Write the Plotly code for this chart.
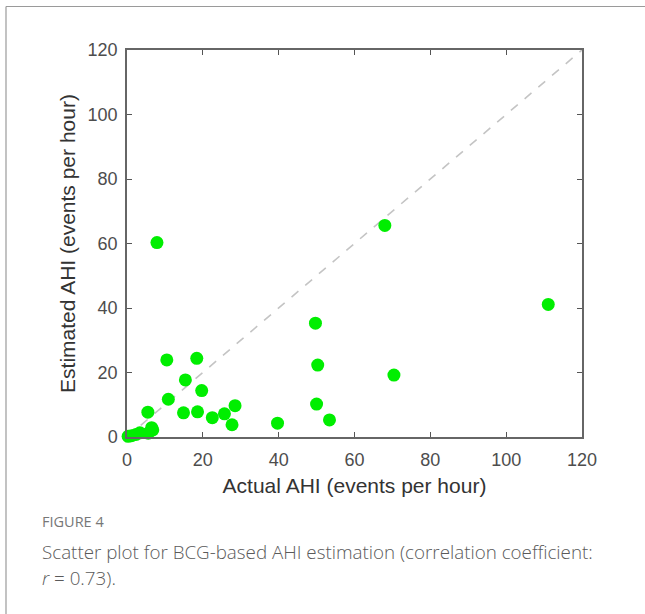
import plotly.graph_objects as go

# Data
actual_ahi = [7.9, 68.0, 111.1, 49.7, 50.3, 70.4, 50.0, 53.4, 39.7, 10.5, 18.4, 15.4,
              19.7, 10.9, 5.5, 14.9, 18.6, 22.5, 25.7, 28.5, 27.7, 6.5, 5.6, 0.3, 1.2,
              2.4, 3.4, 6.8]
estimated_ahi = [60.3, 65.6, 41.1, 35.3, 22.3, 19.2, 10.2, 5.3, 4.3, 23.9, 24.4, 17.7,
                 14.4, 11.7, 7.7, 7.5, 7.8, 6.0, 7.2, 9.7, 3.8, 2.9, 1.2, 0.2, 0.4,
                 0.8, 1.3, 2.2]
identity_line = [0, 120]
tick_values = [0, 20, 40, 60, 80, 100, 120]

x_title = "Actual AHI (events per hour)"
y_title = "Estimated AHI (events per hour)"
caption_label = "FIGURE 4"
caption_line1 = "Scatter plot for BCG-based AHI estimation (correlation coefficient:"
caption_line2 = "<i>r</i> = 0.73)."

# layout geometry (pixels)
W, H = 645, 614
L, R, T, B = 127, 63, 50, 177
pw, ph = W - L - R, H - T - B


def px(xp):
    return (xp - L) / pw


def py(yp):
    return (H - B - yp) / ph


fig = go.Figure()
fig.add_trace(go.Scatter(
    x=identity_line, y=identity_line, mode="lines",
    line=dict(color="#c4c4c4", width=1.6, dash="dash"),
    hoverinfo="skip", showlegend=False))
fig.add_trace(go.Scatter(
    x=actual_ahi, y=estimated_ahi, mode="markers",
    marker=dict(color="#00ee00", size=13, line=dict(width=0)),
    cliponaxis=False, showlegend=False))

axis_common = dict(
    range=[0, 120], tickvals=tick_values, ticks="inside", ticklen=5, tickwidth=1,
    tickcolor="#555555", showline=True, linecolor="#666666", linewidth=1.5,
    mirror="ticks", showgrid=False, zeroline=False,
    tickfont=dict(family="Liberation Sans, Arial", size=18, color="#4d4d4d"),
)

fig.update_layout(
    width=W, height=H,
    margin=dict(l=L, r=R, t=T, b=B),
    paper_bgcolor="white", plot_bgcolor="white",
    xaxis=dict(**axis_common, ticklabelstandoff=6,
               title=dict(text=x_title, standoff=9,
                          font=dict(family="Liberation Sans, Arial", size=21, color="#333333"))),
    yaxis=dict(**axis_common, ticklabelstandoff=4,
               title=dict(text=y_title, standoff=6,
                          font=dict(family="Liberation Sans, Arial", size=21, color="#333333"))),
    shapes=[
        dict(type="line", xref="paper", yref="paper", x0=px(6), x1=px(W + 2),
             y0=py(6.5), y1=py(6.5), line=dict(color="#9a9a9a", width=1.2)),
        dict(type="line", xref="paper", yref="paper", x0=px(6), x1=px(6),
             y0=py(6.5), y1=py(H + 2), line=dict(color="#9a9a9a", width=1.2)),
    ],
    annotations=[
        dict(text=caption_label, xref="paper", yref="paper", x=px(40), y=py(521),
             xanchor="left", yanchor="middle", showarrow=False,
             font=dict(family="Open Sans", size=14.5, color="#777777")),
        dict(text=caption_line1, xref="paper", yref="paper", x=px(40), y=py(552),
             xanchor="left", yanchor="middle", showarrow=False,
             font=dict(family="Open Sans", size=18.8, color="#5a5a5a", weight=300)),
        dict(text=caption_line2, xref="paper", yref="paper", x=px(40), y=py(578),
             xanchor="left", yanchor="middle", showarrow=False,
             font=dict(family="Open Sans", size=18.8, color="#5a5a5a", weight=300)),
    ],
)

fig.write_html("out.html")
